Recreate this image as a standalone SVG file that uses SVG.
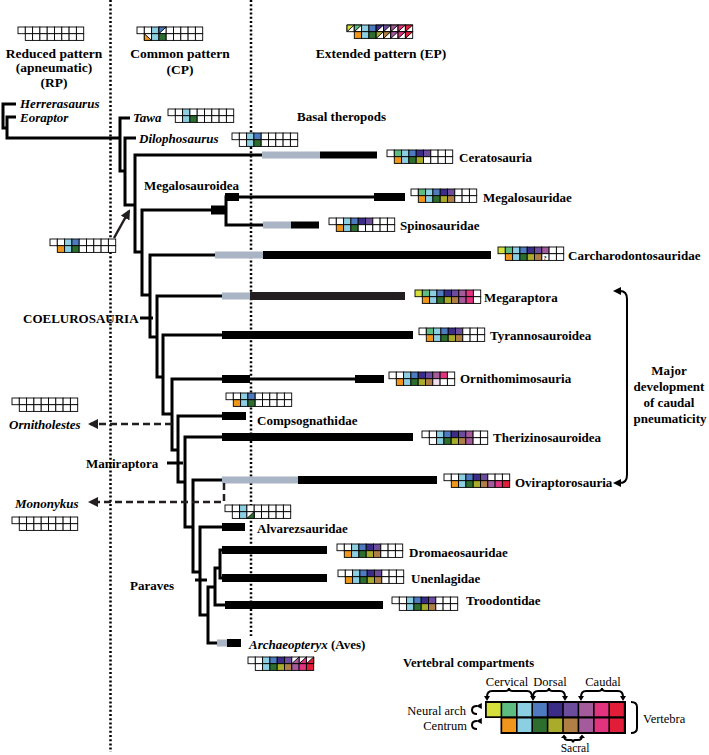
<svg xmlns="http://www.w3.org/2000/svg" width="709" height="755" viewBox="0 0 709 755">
<defs>
<style>
text{font-family:"Liberation Serif","Times New Roman",serif;fill:#000}
.b{font-weight:bold;font-size:13px}
.h{font-weight:bold;font-size:13.5px}
.i{font-style:italic}
.r{font-size:12.5px}
.br{fill:none;stroke:#000;stroke-width:3}
.dot{stroke:#000;stroke-width:2.5;stroke-dasharray:2 2.2}
.dash{fill:none;stroke:#231f20;stroke-width:2.5;stroke-dasharray:7 4}
.gy{fill:#a9b4c4}
.bk{fill:#000}
.m rect,.m path{stroke:#000;stroke-width:0.9}
.W{fill:#fff}.Y{fill:#d5e03c}.G{fill:#5dbd80}.L{fill:#8dcfe2}.B{fill:#4e7bc0}.I{fill:#3b2d87}.P{fill:#6b4c9d}.M{fill:#a45b9c}.K{fill:#e2337f}.R{fill:#e21d3a}.O{fill:#f0961c}.D{fill:#2d6d2e}.V{fill:#a9ab2b}.N{fill:#b07f45}.Q{fill:#f3dff0}
.thin{fill:none;stroke:#000;stroke-width:2}
</style>
<marker id="ah" viewBox="0 0 10 10" refX="8" refY="5" markerWidth="4" markerHeight="4" orient="auto"><path d="M0,0 L10,5 L0,10 z" fill="#231f20"/></marker>
<marker id="as" viewBox="0 0 10 10" refX="8" refY="5" markerWidth="3" markerHeight="3" orient="auto"><path d="M0,0 L10,5 L0,10 z" fill="#000"/></marker>
</defs>
<rect width="709" height="755" fill="#fff"/>

<g id="guides">
<line class="dot" x1="110.5" y1="0" x2="110.5" y2="752"/>
<line class="dot" x1="251" y1="0" x2="251" y2="636"/>
</g>

<g id="connectors">
<path class="br" d="M16,104 H3 V128 H7"/>
<path class="br" d="M16,117 H7 V138 H120"/>
<path class="br" d="M130,118 H120 V171 H125"/>
<path class="br" d="M136,138 H125 V205 H135"/>
<path class="br" d="M262,155 H135 V252 H142"/>
<path class="br" d="M212,210 H142 V295 H150"/>
<path class="br" d="M374,197 H226 V225 H263"/>
<path class="br" d="M215,255 H150 V337 H157"/>
<path class="br" d="M222,296 H157 V377 H163"/>
<path class="br" d="M222,335 H163 V414 H172"/>
<path class="br" d="M222,379 H172 V450 H178"/>
<path class="br" d="M355,379 H250"/>
<path class="br" d="M222,416 H178 V482 H185"/>
<path class="br" d="M222,437 H185 V527 H193"/>
<path class="br" d="M222,480 H193 V572 H200"/>
<path class="br" d="M222,527 H200 V615 H208"/>
<path class="br" d="M217,643 H208 V587 H215"/>
<path class="br" d="M225,605 H215 V568 H220"/>
<path class="br" d="M222,550 H220 V578 H222"/>
<path class="br" d="M140,318 H153"/>
<path class="br" d="M167,463 H183"/>
<path class="br" d="M195,580 H207"/>
<rect class="gy" x="262" y="151.5" width="58" height="7"/>
<rect class="bk" x="320" y="151.5" width="57" height="7"/>
<rect class="bk" x="211" y="205.5" width="15" height="9"/>
<rect class="bk" x="225" y="193" width="14" height="8"/>
<rect class="bk" x="374" y="193" width="31" height="8"/>
<rect class="gy" x="263" y="221.5" width="28" height="7"/>
<rect class="bk" x="291" y="221.5" width="28" height="7"/>
<rect class="gy" x="215" y="251.5" width="48" height="7"/>
<rect class="bk" x="263" y="251" width="228" height="8"/>
<rect class="gy" x="222" y="292.5" width="28" height="7"/>
<rect fill="#231f20" x="250" y="292" width="155" height="8"/>
<rect class="bk" x="222" y="331" width="191" height="8"/>
<rect class="bk" x="222" y="375" width="28" height="8"/>
<rect class="bk" x="355" y="375" width="29" height="8"/>
<rect class="bk" x="222" y="412" width="24" height="8"/>
<rect class="bk" x="222" y="433" width="191" height="8"/>
<rect class="gy" x="222" y="476.5" width="76" height="7"/>
<rect class="bk" x="298" y="476" width="139" height="8"/>
<rect class="bk" x="222" y="523" width="23" height="8"/>
<rect class="bk" x="222" y="546" width="105" height="8"/>
<rect class="bk" x="222" y="574" width="105" height="8"/>
<rect class="bk" x="225" y="601" width="158" height="8"/>
<rect class="gy" x="217" y="639.5" width="10" height="7"/>
<rect class="bk" x="227" y="639" width="14" height="8"/>
<path class="dash" d="M172,424 H90" marker-end="url(#ah)"/>
<path class="dash" d="M224,483 V502 H90" marker-end="url(#ah)"/>
<path fill="none" stroke="#231f20" stroke-width="2.5" d="M114,238 L129,211" marker-end="url(#ah)"/>
<path class="thin" d="M620,291 Q627,291 627,299 V475 Q627,483 620,483"/>
<path d="M613,291 L621,287 L621,295 z M613,483 L621,479 L621,487 z" fill="#000"/>
</g>

<g id="headers">
<text class="h" x="54" y="57.5" text-anchor="middle">Reduced pattern</text>
<text class="h" x="54" y="71.5" text-anchor="middle">(apneumatic)</text>
<text class="h" x="54" y="86.5" text-anchor="middle">(RP)</text>
<text class="h" x="180" y="57.5" text-anchor="middle">Common pattern</text>
<text class="h" x="180" y="73.5" text-anchor="middle">(CP)</text>
<text class="h" x="381" y="57.5" text-anchor="middle">Extended pattern (EP)</text>
<text class="b" x="297" y="121">Basal theropods</text>
<text class="b" x="144" y="189.5">Megalosauroidea</text>
<text class="b" x="23" y="322.5">COELUROSAURIA</text>
<text class="b" x="86" y="467.5">Maniraptora</text>
<text class="b" x="130" y="589.5">Paraves</text>
</g>

<g id="m-rp" class="m" transform="translate(18,27)">
<rect class="W" x="0" y="0" width="7.3" height="6.7"/><rect class="W" x="7.3" y="0" width="7.3" height="6.7"/><rect class="W" x="14.6" y="0" width="7.3" height="6.7"/><rect class="W" x="21.9" y="0" width="7.3" height="6.7"/><rect class="W" x="29.2" y="0" width="7.3" height="6.7"/><rect class="W" x="36.5" y="0" width="7.3" height="6.7"/><rect class="W" x="43.8" y="0" width="7.3" height="6.7"/><rect class="W" x="51.1" y="0" width="7.3" height="6.7"/><rect class="W" x="58.4" y="0" width="7.3" height="6.7"/>
<rect class="W" x="7.3" y="6.7" width="7.3" height="6.7"/><rect class="W" x="14.6" y="6.7" width="7.3" height="6.7"/><rect class="W" x="21.9" y="6.7" width="7.3" height="6.7"/><rect class="W" x="29.2" y="6.7" width="7.3" height="6.7"/><rect class="W" x="36.5" y="6.7" width="7.3" height="6.7"/><rect class="W" x="43.8" y="6.7" width="7.3" height="6.7"/><rect class="W" x="51.1" y="6.7" width="7.3" height="6.7"/><rect class="W" x="58.4" y="6.7" width="7.3" height="6.7"/>
</g>

<g id="m-cp" class="m" transform="translate(137,27)">
<rect class="W" x="0" y="0" width="7.3" height="6.7"/><rect class="W" x="7.3" y="0" width="7.3" height="6.7"/><rect class="L" x="14.6" y="0" width="7.3" height="6.7"/><rect class="W" x="21.9" y="0" width="7.3" height="6.7"/><rect class="W" x="29.2" y="0" width="7.3" height="6.7"/><rect class="W" x="36.5" y="0" width="7.3" height="6.7"/><rect class="W" x="43.8" y="0" width="7.3" height="6.7"/><rect class="W" x="51.1" y="0" width="7.3" height="6.7"/><rect class="W" x="58.4" y="0" width="7.3" height="6.7"/>
<path class="B" d="M21.9,6.7 L29.2,0 L21.9,0 z"/>
<rect class="W" x="7.3" y="6.7" width="7.3" height="6.7"/><rect class="L" x="14.6" y="6.7" width="7.3" height="6.7"/><rect class="D" x="21.9" y="6.7" width="7.3" height="6.7"/><rect class="W" x="29.2" y="6.7" width="7.3" height="6.7"/><rect class="W" x="36.5" y="6.7" width="7.3" height="6.7"/><rect class="W" x="43.8" y="6.7" width="7.3" height="6.7"/><rect class="W" x="51.1" y="6.7" width="7.3" height="6.7"/><rect class="W" x="58.4" y="6.7" width="7.3" height="6.7"/>
<path class="O" d="M7.3,13.4 L14.6,13.4 L7.3,6.7 z"/>
</g>

<g id="m-ep" class="m" transform="translate(347,25)">
<rect class="W" x="0" y="0" width="7.3" height="6.7"/><rect class="W" x="7.3" y="0" width="7.3" height="6.7"/><rect class="L" x="14.6" y="0" width="7.3" height="6.7"/><rect class="B" x="21.9" y="0" width="7.3" height="6.7"/><rect class="W" x="29.2" y="0" width="7.3" height="6.7"/><rect class="W" x="36.5" y="0" width="7.3" height="6.7"/><rect class="W" x="43.8" y="0" width="7.3" height="6.7"/><rect class="W" x="51.1" y="0" width="7.3" height="6.7"/><rect class="W" x="58.4" y="0" width="7.3" height="6.7"/>
<path class="Y" d="M0,6.7 L7.3,0 L0,0 z"/><path class="G" d="M7.3,6.7 L14.6,0 L7.3,0 z"/><path class="I" d="M29.2,6.7 L36.5,0 L29.2,0 z"/><path class="P" d="M36.5,6.7 L43.8,0 L36.5,0 z"/><path class="M" d="M43.8,6.7 L51.1,0 L43.8,0 z"/><path class="K" d="M51.1,6.7 L58.4,0 L51.1,0 z"/><path class="R" d="M58.4,6.7 L65.7,0 L58.4,0 z"/>
<rect class="O" x="7.3" y="6.7" width="7.3" height="6.7"/><rect class="L" x="14.6" y="6.7" width="7.3" height="6.7"/><rect class="D" x="21.9" y="6.7" width="7.3" height="6.7"/><rect class="W" x="29.2" y="6.7" width="7.3" height="6.7"/><rect class="W" x="36.5" y="6.7" width="7.3" height="6.7"/><rect class="W" x="43.8" y="6.7" width="7.3" height="6.7"/><rect class="W" x="51.1" y="6.7" width="7.3" height="6.7"/><rect class="W" x="58.4" y="6.7" width="7.3" height="6.7"/>
<path class="V" d="M29.2,13.4 L36.5,6.7 L29.2,6.7 z"/><path class="N" d="M36.5,13.4 L43.8,6.7 L36.5,6.7 z"/><path class="M" d="M43.8,13.4 L51.1,6.7 L43.8,6.7 z"/><path class="K" d="M51.1,13.4 L58.4,6.7 L51.1,6.7 z"/><path class="R" d="M58.4,13.4 L65.7,6.7 L58.4,6.7 z"/>
</g>

<g id="herrerasaurus"><text class="b i" x="20" y="108">Herrerasaurus</text></g>
<g id="eoraptor"><text class="b i" x="20" y="121.5">Eoraptor</text></g>

<g id="tawa"><text class="b i" x="133" y="122">Tawa</text>
<g class="m" transform="translate(168,109)">
<rect class="W" x="0" y="0" width="7.3" height="6.7"/><rect class="W" x="7.3" y="0" width="7.3" height="6.7"/><rect class="L" x="14.6" y="0" width="7.3" height="6.7"/><rect class="W" x="21.9" y="0" width="7.3" height="6.7"/><rect class="W" x="29.2" y="0" width="7.3" height="6.7"/><rect class="W" x="36.5" y="0" width="7.3" height="6.7"/><rect class="W" x="43.8" y="0" width="7.3" height="6.7"/><rect class="W" x="51.1" y="0" width="7.3" height="6.7"/><rect class="W" x="58.4" y="0" width="7.3" height="6.7"/>
<rect class="W" x="7.3" y="6.7" width="7.3" height="6.7"/><rect class="L" x="14.6" y="6.7" width="7.3" height="6.7"/><rect class="D" x="21.9" y="6.7" width="7.3" height="6.7"/><rect class="W" x="29.2" y="6.7" width="7.3" height="6.7"/><rect class="W" x="36.5" y="6.7" width="7.3" height="6.7"/><rect class="W" x="43.8" y="6.7" width="7.3" height="6.7"/><rect class="W" x="51.1" y="6.7" width="7.3" height="6.7"/><rect class="W" x="58.4" y="6.7" width="7.3" height="6.7"/>
</g></g>

<g id="dilophosaurus"><text class="b i" x="139" y="142.5">Dilophosaurus</text>
<g class="m" transform="translate(232,133)">
<rect class="W" x="0" y="0" width="7.3" height="6.7"/><rect class="W" x="7.3" y="0" width="7.3" height="6.7"/><rect class="L" x="14.6" y="0" width="7.3" height="6.7"/><rect class="B" x="21.9" y="0" width="7.3" height="6.7"/><rect class="W" x="29.2" y="0" width="7.3" height="6.7"/><rect class="W" x="36.5" y="0" width="7.3" height="6.7"/><rect class="W" x="43.8" y="0" width="7.3" height="6.7"/><rect class="W" x="51.1" y="0" width="7.3" height="6.7"/><rect class="W" x="58.4" y="0" width="7.3" height="6.7"/>
<rect class="W" x="7.3" y="6.7" width="7.3" height="6.7"/><rect class="L" x="14.6" y="6.7" width="7.3" height="6.7"/><rect class="D" x="21.9" y="6.7" width="7.3" height="6.7"/><rect class="W" x="29.2" y="6.7" width="7.3" height="6.7"/><rect class="W" x="36.5" y="6.7" width="7.3" height="6.7"/><rect class="W" x="43.8" y="6.7" width="7.3" height="6.7"/><rect class="W" x="51.1" y="6.7" width="7.3" height="6.7"/><rect class="W" x="58.4" y="6.7" width="7.3" height="6.7"/>
</g></g>

<g id="m-node" class="m" transform="translate(50,239)">
<rect class="W" x="0" y="0" width="7.3" height="6.7"/><rect class="W" x="7.3" y="0" width="7.3" height="6.7"/><rect class="L" x="14.6" y="0" width="7.3" height="6.7"/><rect class="B" x="21.9" y="0" width="7.3" height="6.7"/><rect class="W" x="29.2" y="0" width="7.3" height="6.7"/><rect class="W" x="36.5" y="0" width="7.3" height="6.7"/><rect class="W" x="43.8" y="0" width="7.3" height="6.7"/><rect class="W" x="51.1" y="0" width="7.3" height="6.7"/><rect class="W" x="58.4" y="0" width="7.3" height="6.7"/>
<rect class="O" x="7.3" y="6.7" width="7.3" height="6.7"/><rect class="L" x="14.6" y="6.7" width="7.3" height="6.7"/><rect class="D" x="21.9" y="6.7" width="7.3" height="6.7"/><rect class="W" x="29.2" y="6.7" width="7.3" height="6.7"/><rect class="W" x="36.5" y="6.7" width="7.3" height="6.7"/><rect class="W" x="43.8" y="6.7" width="7.3" height="6.7"/><rect class="W" x="51.1" y="6.7" width="7.3" height="6.7"/><rect class="W" x="58.4" y="6.7" width="7.3" height="6.7"/>
</g>

<g id="ceratosauria"><text class="b" x="459" y="161.5">Ceratosauria</text>
<g class="m" transform="translate(387,150)">
<rect class="W" x="0" y="0" width="7.3" height="6.7"/><rect class="G" x="7.3" y="0" width="7.3" height="6.7"/><rect class="L" x="14.6" y="0" width="7.3" height="6.7"/><rect class="B" x="21.9" y="0" width="7.3" height="6.7"/><rect class="I" x="29.2" y="0" width="7.3" height="6.7"/><rect class="P" x="36.5" y="0" width="7.3" height="6.7"/><rect class="W" x="43.8" y="0" width="7.3" height="6.7"/><rect class="W" x="51.1" y="0" width="7.3" height="6.7"/><rect class="W" x="58.4" y="0" width="7.3" height="6.7"/>
<rect class="O" x="7.3" y="6.7" width="7.3" height="6.7"/><rect class="L" x="14.6" y="6.7" width="7.3" height="6.7"/><rect class="D" x="21.9" y="6.7" width="7.3" height="6.7"/><rect class="V" x="29.2" y="6.7" width="7.3" height="6.7"/><rect class="W" x="36.5" y="6.7" width="7.3" height="6.7"/><rect class="W" x="43.8" y="6.7" width="7.3" height="6.7"/><rect class="W" x="51.1" y="6.7" width="7.3" height="6.7"/><rect class="W" x="58.4" y="6.7" width="7.3" height="6.7"/>
</g></g>

<g id="megalosauridae"><text class="b" x="483" y="201.5">Megalosauridae</text>
<g class="m" transform="translate(411,189)">
<rect class="W" x="0" y="0" width="7.3" height="6.7"/><rect class="G" x="7.3" y="0" width="7.3" height="6.7"/><rect class="L" x="14.6" y="0" width="7.3" height="6.7"/><rect class="B" x="21.9" y="0" width="7.3" height="6.7"/><rect class="I" x="29.2" y="0" width="7.3" height="6.7"/><rect class="P" x="36.5" y="0" width="7.3" height="6.7"/><rect class="W" x="43.8" y="0" width="7.3" height="6.7"/><rect class="W" x="51.1" y="0" width="7.3" height="6.7"/><rect class="W" x="58.4" y="0" width="7.3" height="6.7"/>
<rect class="O" x="7.3" y="6.7" width="7.3" height="6.7"/><rect class="L" x="14.6" y="6.7" width="7.3" height="6.7"/><rect class="D" x="21.9" y="6.7" width="7.3" height="6.7"/><rect class="V" x="29.2" y="6.7" width="7.3" height="6.7"/><rect class="N" x="36.5" y="6.7" width="7.3" height="6.7"/><rect class="W" x="43.8" y="6.7" width="7.3" height="6.7"/><rect class="W" x="51.1" y="6.7" width="7.3" height="6.7"/><rect class="W" x="58.4" y="6.7" width="7.3" height="6.7"/>
</g></g>

<g id="spinosauridae"><text class="b" x="400" y="229.5">Spinosauridae</text>
<g class="m" transform="translate(329,218)">
<rect class="W" x="0" y="0" width="7.3" height="6.7"/><rect class="W" x="7.3" y="0" width="7.3" height="6.7"/><rect class="L" x="14.6" y="0" width="7.3" height="6.7"/><rect class="B" x="21.9" y="0" width="7.3" height="6.7"/><rect class="I" x="29.2" y="0" width="7.3" height="6.7"/><rect class="P" x="36.5" y="0" width="7.3" height="6.7"/><rect class="W" x="43.8" y="0" width="7.3" height="6.7"/><rect class="W" x="51.1" y="0" width="7.3" height="6.7"/><rect class="W" x="58.4" y="0" width="7.3" height="6.7"/>
<rect class="O" x="7.3" y="6.7" width="7.3" height="6.7"/><rect class="L" x="14.6" y="6.7" width="7.3" height="6.7"/><rect class="D" x="21.9" y="6.7" width="7.3" height="6.7"/><rect class="W" x="29.2" y="6.7" width="7.3" height="6.7"/><rect class="W" x="36.5" y="6.7" width="7.3" height="6.7"/><rect class="W" x="43.8" y="6.7" width="7.3" height="6.7"/><rect class="W" x="51.1" y="6.7" width="7.3" height="6.7"/><rect class="W" x="58.4" y="6.7" width="7.3" height="6.7"/>
</g></g>

<g id="carcharodontosauridae"><text class="b" x="568" y="259.5">Carcharodontosauridae</text>
<g class="m" transform="translate(498,247)">
<rect class="Y" x="0" y="0" width="7.3" height="6.7"/><rect class="G" x="7.3" y="0" width="7.3" height="6.7"/><rect class="L" x="14.6" y="0" width="7.3" height="6.7"/><rect class="B" x="21.9" y="0" width="7.3" height="6.7"/><rect class="I" x="29.2" y="0" width="7.3" height="6.7"/><rect class="P" x="36.5" y="0" width="7.3" height="6.7"/><rect class="M" x="43.8" y="0" width="7.3" height="6.7"/><rect class="W" x="51.1" y="0" width="7.3" height="6.7"/><rect class="W" x="58.4" y="0" width="7.3" height="6.7"/>
<rect class="O" x="7.3" y="6.7" width="7.3" height="6.7"/><rect class="L" x="14.6" y="6.7" width="7.3" height="6.7"/><rect class="D" x="21.9" y="6.7" width="7.3" height="6.7"/><rect class="V" x="29.2" y="6.7" width="7.3" height="6.7"/><rect class="N" x="36.5" y="6.7" width="7.3" height="6.7"/><rect class="W" x="43.8" y="6.7" width="7.3" height="6.7"/><rect class="W" x="51.1" y="6.7" width="7.3" height="6.7"/><rect class="W" x="58.4" y="6.7" width="7.3" height="6.7"/>
<text x="45.6" y="12.6" style="font-size:6px;font-weight:bold">?</text>
</g></g>

<g id="megaraptora"><text class="b" x="484" y="301.5">Megaraptora</text>
<g class="m" transform="translate(415,290)">
<rect class="Y" x="0" y="0" width="7.3" height="6.7"/><rect class="G" x="7.3" y="0" width="7.3" height="6.7"/><rect class="L" x="14.6" y="0" width="7.3" height="6.7"/><rect class="B" x="21.9" y="0" width="7.3" height="6.7"/><rect class="I" x="29.2" y="0" width="7.3" height="6.7"/><rect class="P" x="36.5" y="0" width="7.3" height="6.7"/><rect class="M" x="43.8" y="0" width="7.3" height="6.7"/><rect class="K" x="51.1" y="0" width="7.3" height="6.7"/><rect class="W" x="58.4" y="0" width="7.3" height="6.7"/>
<rect class="O" x="7.3" y="6.7" width="7.3" height="6.7"/><rect class="L" x="14.6" y="6.7" width="7.3" height="6.7"/><rect class="D" x="21.9" y="6.7" width="7.3" height="6.7"/><rect class="V" x="29.2" y="6.7" width="7.3" height="6.7"/><rect class="N" x="36.5" y="6.7" width="7.3" height="6.7"/><rect class="M" x="43.8" y="6.7" width="7.3" height="6.7"/><rect class="K" x="51.1" y="6.7" width="7.3" height="6.7"/><rect class="W" x="58.4" y="6.7" width="7.3" height="6.7"/>
</g></g>

<g id="tyrannosauroidea"><text class="b" x="490" y="339.5">Tyrannosauroidea</text>
<g class="m" transform="translate(419,328)">
<rect class="W" x="0" y="0" width="7.3" height="6.7"/><rect class="G" x="7.3" y="0" width="7.3" height="6.7"/><rect class="L" x="14.6" y="0" width="7.3" height="6.7"/><rect class="B" x="21.9" y="0" width="7.3" height="6.7"/><rect class="I" x="29.2" y="0" width="7.3" height="6.7"/><rect class="P" x="36.5" y="0" width="7.3" height="6.7"/><rect class="W" x="43.8" y="0" width="7.3" height="6.7"/><rect class="W" x="51.1" y="0" width="7.3" height="6.7"/><rect class="W" x="58.4" y="0" width="7.3" height="6.7"/>
<rect class="O" x="7.3" y="6.7" width="7.3" height="6.7"/><rect class="L" x="14.6" y="6.7" width="7.3" height="6.7"/><rect class="D" x="21.9" y="6.7" width="7.3" height="6.7"/><rect class="V" x="29.2" y="6.7" width="7.3" height="6.7"/><rect class="N" x="36.5" y="6.7" width="7.3" height="6.7"/><rect class="W" x="43.8" y="6.7" width="7.3" height="6.7"/><rect class="W" x="51.1" y="6.7" width="7.3" height="6.7"/><rect class="W" x="58.4" y="6.7" width="7.3" height="6.7"/>
</g></g>

<g id="ornithomimosauria"><text class="b" x="460" y="382.5">Ornithomimosauria</text>
<g class="m" transform="translate(389,372)">
<rect class="W" x="0" y="0" width="7.3" height="6.7"/><rect class="W" x="7.3" y="0" width="7.3" height="6.7"/><rect class="L" x="14.6" y="0" width="7.3" height="6.7"/><rect class="B" x="21.9" y="0" width="7.3" height="6.7"/><rect class="I" x="29.2" y="0" width="7.3" height="6.7"/><rect class="P" x="36.5" y="0" width="7.3" height="6.7"/><rect class="M" x="43.8" y="0" width="7.3" height="6.7"/><rect class="K" x="51.1" y="0" width="7.3" height="6.7"/><rect class="W" x="58.4" y="0" width="7.3" height="6.7"/>
<rect class="O" x="7.3" y="6.7" width="7.3" height="6.7"/><rect class="L" x="14.6" y="6.7" width="7.3" height="6.7"/><rect class="D" x="21.9" y="6.7" width="7.3" height="6.7"/><rect class="V" x="29.2" y="6.7" width="7.3" height="6.7"/><rect class="N" x="36.5" y="6.7" width="7.3" height="6.7"/><rect class="Q" x="43.8" y="6.7" width="7.3" height="6.7"/><rect class="W" x="51.1" y="6.7" width="7.3" height="6.7"/><rect class="W" x="58.4" y="6.7" width="7.3" height="6.7"/>
</g></g>

<g id="compsognathidae"><text class="b" x="257" y="424.5">Compsognathidae</text>
<g class="m" transform="translate(226,393)">
<rect class="W" x="0" y="0" width="7.3" height="6.7"/><rect class="W" x="7.3" y="0" width="7.3" height="6.7"/><rect class="L" x="14.6" y="0" width="7.3" height="6.7"/><rect class="B" x="21.9" y="0" width="7.3" height="6.7"/><rect class="W" x="29.2" y="0" width="7.3" height="6.7"/><rect class="W" x="36.5" y="0" width="7.3" height="6.7"/><rect class="W" x="43.8" y="0" width="7.3" height="6.7"/><rect class="W" x="51.1" y="0" width="7.3" height="6.7"/><rect class="W" x="58.4" y="0" width="7.3" height="6.7"/>
<rect class="O" x="7.3" y="6.7" width="7.3" height="6.7"/><rect class="L" x="14.6" y="6.7" width="7.3" height="6.7"/><rect class="D" x="21.9" y="6.7" width="7.3" height="6.7"/><rect class="W" x="29.2" y="6.7" width="7.3" height="6.7"/><rect class="W" x="36.5" y="6.7" width="7.3" height="6.7"/><rect class="W" x="43.8" y="6.7" width="7.3" height="6.7"/><rect class="W" x="51.1" y="6.7" width="7.3" height="6.7"/><rect class="W" x="58.4" y="6.7" width="7.3" height="6.7"/>
</g></g>

<g id="ornitholestes"><text class="b i" x="9" y="428.5">Ornitholestes</text>
<g class="m" transform="translate(12,398)">
<rect class="W" x="0" y="0" width="7.3" height="6.7"/><rect class="W" x="7.3" y="0" width="7.3" height="6.7"/><rect class="W" x="14.6" y="0" width="7.3" height="6.7"/><rect class="W" x="21.9" y="0" width="7.3" height="6.7"/><rect class="W" x="29.2" y="0" width="7.3" height="6.7"/><rect class="W" x="36.5" y="0" width="7.3" height="6.7"/><rect class="W" x="43.8" y="0" width="7.3" height="6.7"/><rect class="W" x="51.1" y="0" width="7.3" height="6.7"/><rect class="W" x="58.4" y="0" width="7.3" height="6.7"/>
<rect class="W" x="7.3" y="6.7" width="7.3" height="6.7"/><rect class="W" x="14.6" y="6.7" width="7.3" height="6.7"/><rect class="W" x="21.9" y="6.7" width="7.3" height="6.7"/><rect class="W" x="29.2" y="6.7" width="7.3" height="6.7"/><rect class="W" x="36.5" y="6.7" width="7.3" height="6.7"/><rect class="W" x="43.8" y="6.7" width="7.3" height="6.7"/><rect class="W" x="51.1" y="6.7" width="7.3" height="6.7"/><rect class="W" x="58.4" y="6.7" width="7.3" height="6.7"/>
</g></g>

<g id="therizinosauroidea"><text class="b" x="493" y="441.5">Therizinosauroidea</text>
<g class="m" transform="translate(422,431)">
<rect class="W" x="0" y="0" width="7.3" height="6.7"/><rect class="W" x="7.3" y="0" width="7.3" height="6.7"/><rect class="L" x="14.6" y="0" width="7.3" height="6.7"/><rect class="B" x="21.9" y="0" width="7.3" height="6.7"/><rect class="I" x="29.2" y="0" width="7.3" height="6.7"/><rect class="P" x="36.5" y="0" width="7.3" height="6.7"/><rect class="M" x="43.8" y="0" width="7.3" height="6.7"/><rect class="W" x="51.1" y="0" width="7.3" height="6.7"/><rect class="W" x="58.4" y="0" width="7.3" height="6.7"/>
<rect class="W" x="7.3" y="6.7" width="7.3" height="6.7"/><rect class="L" x="14.6" y="6.7" width="7.3" height="6.7"/><rect class="D" x="21.9" y="6.7" width="7.3" height="6.7"/><rect class="V" x="29.2" y="6.7" width="7.3" height="6.7"/><rect class="N" x="36.5" y="6.7" width="7.3" height="6.7"/><rect class="M" x="43.8" y="6.7" width="7.3" height="6.7"/><rect class="W" x="51.1" y="6.7" width="7.3" height="6.7"/><rect class="W" x="58.4" y="6.7" width="7.3" height="6.7"/>
</g></g>

<g id="oviraptorosauria"><text class="b" x="515" y="486.5">Oviraptorosauria</text>
<g class="m" transform="translate(444,474)">
<rect class="W" x="0" y="0" width="7.3" height="6.7"/><rect class="W" x="7.3" y="0" width="7.3" height="6.7"/><rect class="L" x="14.6" y="0" width="7.3" height="6.7"/><rect class="B" x="21.9" y="0" width="7.3" height="6.7"/><rect class="I" x="29.2" y="0" width="7.3" height="6.7"/><rect class="P" x="36.5" y="0" width="7.3" height="6.7"/><rect class="W" x="43.8" y="0" width="7.3" height="6.7"/><rect class="W" x="51.1" y="0" width="7.3" height="6.7"/><rect class="W" x="58.4" y="0" width="7.3" height="6.7"/>
<rect class="O" x="7.3" y="6.7" width="7.3" height="6.7"/><rect class="L" x="14.6" y="6.7" width="7.3" height="6.7"/><rect class="D" x="21.9" y="6.7" width="7.3" height="6.7"/><rect class="V" x="29.2" y="6.7" width="7.3" height="6.7"/><rect class="N" x="36.5" y="6.7" width="7.3" height="6.7"/><rect class="M" x="43.8" y="6.7" width="7.3" height="6.7"/><rect class="K" x="51.1" y="6.7" width="7.3" height="6.7"/><rect class="R" x="58.4" y="6.7" width="7.3" height="6.7"/>
</g></g>

<g id="mononykus"><text class="b i" x="15" y="507.5">Mononykus</text>
<g class="m" transform="translate(12,517)">
<rect class="W" x="0" y="0" width="7.3" height="6.7"/><rect class="W" x="7.3" y="0" width="7.3" height="6.7"/><rect class="W" x="14.6" y="0" width="7.3" height="6.7"/><rect class="W" x="21.9" y="0" width="7.3" height="6.7"/><rect class="W" x="29.2" y="0" width="7.3" height="6.7"/><rect class="W" x="36.5" y="0" width="7.3" height="6.7"/><rect class="W" x="43.8" y="0" width="7.3" height="6.7"/><rect class="W" x="51.1" y="0" width="7.3" height="6.7"/><rect class="W" x="58.4" y="0" width="7.3" height="6.7"/>
<rect class="W" x="7.3" y="6.7" width="7.3" height="6.7"/><rect class="W" x="14.6" y="6.7" width="7.3" height="6.7"/><rect class="W" x="21.9" y="6.7" width="7.3" height="6.7"/><rect class="W" x="29.2" y="6.7" width="7.3" height="6.7"/><rect class="W" x="36.5" y="6.7" width="7.3" height="6.7"/><rect class="W" x="43.8" y="6.7" width="7.3" height="6.7"/><rect class="W" x="51.1" y="6.7" width="7.3" height="6.7"/><rect class="W" x="58.4" y="6.7" width="7.3" height="6.7"/>
</g></g>

<g id="alvarezsauridae"><text class="b" x="257" y="532.5">Alvarezsauridae</text>
<g class="m" transform="translate(225,505)">
<rect class="W" x="0" y="0" width="7.3" height="6.7"/><rect class="W" x="7.3" y="0" width="7.3" height="6.7"/><rect class="L" x="14.6" y="0" width="7.3" height="6.7"/><rect class="W" x="21.9" y="0" width="7.3" height="6.7"/><rect class="W" x="29.2" y="0" width="7.3" height="6.7"/><rect class="W" x="36.5" y="0" width="7.3" height="6.7"/><rect class="W" x="43.8" y="0" width="7.3" height="6.7"/><rect class="W" x="51.1" y="0" width="7.3" height="6.7"/><rect class="W" x="58.4" y="0" width="7.3" height="6.7"/>
<rect class="W" x="7.3" y="6.7" width="7.3" height="6.7"/><rect class="L" x="14.6" y="6.7" width="7.3" height="6.7"/><rect class="W" x="21.9" y="6.7" width="7.3" height="6.7"/><rect class="W" x="29.2" y="6.7" width="7.3" height="6.7"/><rect class="W" x="36.5" y="6.7" width="7.3" height="6.7"/><rect class="W" x="43.8" y="6.7" width="7.3" height="6.7"/><rect class="W" x="51.1" y="6.7" width="7.3" height="6.7"/><rect class="W" x="58.4" y="6.7" width="7.3" height="6.7"/>
<path class="D" d="M21.9,13.4 L29.2,13.4 L29.2,6.7 z"/>
</g></g>

<g id="dromaeosauridae"><text class="b" x="409" y="556.5">Dromaeosauridae</text>
<g class="m" transform="translate(337,544)">
<rect class="W" x="0" y="0" width="7.3" height="6.7"/><rect class="W" x="7.3" y="0" width="7.3" height="6.7"/><rect class="L" x="14.6" y="0" width="7.3" height="6.7"/><rect class="B" x="21.9" y="0" width="7.3" height="6.7"/><rect class="I" x="29.2" y="0" width="7.3" height="6.7"/><rect class="P" x="36.5" y="0" width="7.3" height="6.7"/><rect class="W" x="43.8" y="0" width="7.3" height="6.7"/><rect class="W" x="51.1" y="0" width="7.3" height="6.7"/><rect class="W" x="58.4" y="0" width="7.3" height="6.7"/>
<rect class="O" x="7.3" y="6.7" width="7.3" height="6.7"/><rect class="L" x="14.6" y="6.7" width="7.3" height="6.7"/><rect class="D" x="21.9" y="6.7" width="7.3" height="6.7"/><rect class="V" x="29.2" y="6.7" width="7.3" height="6.7"/><rect class="N" x="36.5" y="6.7" width="7.3" height="6.7"/><rect class="W" x="43.8" y="6.7" width="7.3" height="6.7"/><rect class="W" x="51.1" y="6.7" width="7.3" height="6.7"/><rect class="W" x="58.4" y="6.7" width="7.3" height="6.7"/>
</g></g>

<g id="unenlagidae"><text class="b" x="411" y="582.5">Unenlagidae</text>
<g class="m" transform="translate(338,570)">
<rect class="W" x="0" y="0" width="7.3" height="6.7"/><rect class="W" x="7.3" y="0" width="7.3" height="6.7"/><rect class="L" x="14.6" y="0" width="7.3" height="6.7"/><rect class="B" x="21.9" y="0" width="7.3" height="6.7"/><rect class="I" x="29.2" y="0" width="7.3" height="6.7"/><rect class="P" x="36.5" y="0" width="7.3" height="6.7"/><rect class="W" x="43.8" y="0" width="7.3" height="6.7"/><rect class="W" x="51.1" y="0" width="7.3" height="6.7"/><rect class="W" x="58.4" y="0" width="7.3" height="6.7"/>
<rect class="O" x="7.3" y="6.7" width="7.3" height="6.7"/><rect class="L" x="14.6" y="6.7" width="7.3" height="6.7"/><rect class="D" x="21.9" y="6.7" width="7.3" height="6.7"/><rect class="V" x="29.2" y="6.7" width="7.3" height="6.7"/><rect class="N" x="36.5" y="6.7" width="7.3" height="6.7"/><rect class="W" x="43.8" y="6.7" width="7.3" height="6.7"/><rect class="W" x="51.1" y="6.7" width="7.3" height="6.7"/><rect class="W" x="58.4" y="6.7" width="7.3" height="6.7"/>
</g></g>

<g id="troodontidae"><text class="b" x="466" y="604.5">Troodontidae</text>
<g class="m" transform="translate(392,597)">
<rect class="W" x="0" y="0" width="7.3" height="6.7"/><rect class="W" x="7.3" y="0" width="7.3" height="6.7"/><rect class="L" x="14.6" y="0" width="7.3" height="6.7"/><rect class="B" x="21.9" y="0" width="7.3" height="6.7"/><rect class="I" x="29.2" y="0" width="7.3" height="6.7"/><rect class="P" x="36.5" y="0" width="7.3" height="6.7"/><rect class="W" x="43.8" y="0" width="7.3" height="6.7"/><rect class="W" x="51.1" y="0" width="7.3" height="6.7"/><rect class="W" x="58.4" y="0" width="7.3" height="6.7"/>
<rect class="W" x="7.3" y="6.7" width="7.3" height="6.7"/><rect class="L" x="14.6" y="6.7" width="7.3" height="6.7"/><rect class="D" x="21.9" y="6.7" width="7.3" height="6.7"/><rect class="V" x="29.2" y="6.7" width="7.3" height="6.7"/><rect class="N" x="36.5" y="6.7" width="7.3" height="6.7"/><rect class="W" x="43.8" y="6.7" width="7.3" height="6.7"/><rect class="W" x="51.1" y="6.7" width="7.3" height="6.7"/><rect class="W" x="58.4" y="6.7" width="7.3" height="6.7"/>
</g></g>

<g id="archaeopteryx"><text class="b" x="249" y="648.5"><tspan class="i">Archaeopteryx</tspan> (Aves)</text>
<g class="m" transform="translate(248,657)">
<rect class="W" x="0" y="0" width="7.3" height="6.7"/><rect class="W" x="7.3" y="0" width="7.3" height="6.7"/><rect class="L" x="14.6" y="0" width="7.3" height="6.7"/><rect class="B" x="21.9" y="0" width="7.3" height="6.7"/><rect class="I" x="29.2" y="0" width="7.3" height="6.7"/><rect class="P" x="36.5" y="0" width="7.3" height="6.7"/><rect class="W" x="43.8" y="0" width="7.3" height="6.7"/><rect class="W" x="51.1" y="0" width="7.3" height="6.7"/><rect class="W" x="58.4" y="0" width="7.3" height="6.7"/>
<path class="M" d="M43.8,6.7 L51.1,6.7 L51.1,0 z"/><path class="K" d="M51.1,6.7 L58.4,6.7 L58.4,0 z"/><path class="R" d="M58.4,6.7 L65.7,6.7 L65.7,0 z"/>
<rect class="W" x="7.3" y="6.7" width="7.3" height="6.7"/><rect class="L" x="14.6" y="6.7" width="7.3" height="6.7"/><rect class="D" x="21.9" y="6.7" width="7.3" height="6.7"/><rect class="V" x="29.2" y="6.7" width="7.3" height="6.7"/><rect class="N" x="36.5" y="6.7" width="7.3" height="6.7"/><rect class="M" x="43.8" y="6.7" width="7.3" height="6.7"/><rect class="K" x="51.1" y="6.7" width="7.3" height="6.7"/><rect class="R" x="58.4" y="6.7" width="7.3" height="6.7"/>
</g></g>

<g id="caudal-note">
<text class="b" x="669" y="374.5" text-anchor="middle">Major</text>
<text class="b" x="669" y="391" text-anchor="middle">development</text>
<text class="b" x="669" y="407" text-anchor="middle">of caudal</text>
<text class="b" x="670" y="422.5" text-anchor="middle">pneumaticity</text>
</g>

<g id="legend">
<text x="403" y="666.5" style="font-weight:bold;font-size:12.5px">Vertebral compartments</text>
<text class="r" x="507" y="685.5" text-anchor="middle">Cervical</text>
<text class="r" x="550" y="685.5" text-anchor="middle">Dorsal</text>
<text class="r" x="603" y="685.5" text-anchor="middle">Caudal</text>
<path class="thin" d="M487,697 Q487,691 492,691 H505 Q509,691 509,688 Q509,691 513,691 H527 Q532,691 532,697"/>
<path class="thin" d="M533,697 Q533,691 538,691 H545 Q549,691 549,688 Q549,691 553,691 H560 Q565,691 565,697"/>
<path class="thin" d="M581,697 Q581,691 586,691 H598 Q602,691 602,688 Q602,691 606,691 H618 Q623,691 623,697"/>
<path d="M484,696 L490,696 L487,701 z M530,696 L536,696 L533,701 z M562,696 L568,696 L565,701 z M578,696 L584,696 L581,701 z M620,696 L626,696 L623,701 z" fill="#000"/>
<path d="M485,701 H626 V734 H500.5 V718 H485 z" fill="#000"/>
<rect class="Y" x="486.8" y="703" width="13.8" height="13.3"/><rect class="G" x="502.2" y="703" width="13.8" height="13.3"/><rect class="L" x="517.6" y="703" width="13.8" height="13.3"/><rect class="B" x="533" y="703" width="13.8" height="13.3"/><rect class="I" x="548.4" y="703" width="13.8" height="13.3"/><rect class="P" x="563.8" y="703" width="13.8" height="13.3"/><rect class="M" x="579.2" y="703" width="13.8" height="13.3"/><rect class="K" x="594.6" y="703" width="13.8" height="13.3"/><rect class="R" x="610" y="703" width="13.8" height="13.3"/>
<rect class="O" x="502.2" y="718.5" width="13.8" height="13.5"/><rect class="L" x="517.6" y="718.5" width="13.8" height="13.5"/><rect class="D" x="533" y="718.5" width="13.8" height="13.5"/><rect class="V" x="548.4" y="718.5" width="13.8" height="13.5"/><rect class="N" x="563.8" y="718.5" width="13.8" height="13.5"/><rect class="M" x="579.2" y="718.5" width="13.8" height="13.5"/><rect class="K" x="594.6" y="718.5" width="13.8" height="13.5"/><rect class="R" x="610" y="718.5" width="13.8" height="13.5"/>
<text class="r" x="466" y="714.5" text-anchor="end">Neural arch</text>
<text class="r" x="467" y="729.5" text-anchor="end">Centrum</text>
<path class="thin" d="M477,706 Q472,706 472,710 Q472,714 477,714" marker-start="url(#as)"/>
<path class="thin" d="M477,721 Q472,721 472,725 Q472,729 477,729" marker-start="url(#as)"/>
<path class="thin" d="M631,702 Q637,702 637,707 V728 Q637,733 631,733"/>
<text class="r" x="643" y="722.5">Vertebra</text>
<path class="thin" d="M564,736 Q564,740 568,740 H571 Q573,740 573,742.5 Q573,740 575,740 H578 Q582,740 582,736"/>
<path d="M561,738 L567,738 L564,734.5 z M579,738 L585,738 L582,734.5 z" fill="#000"/>
<text x="575" y="751.5" text-anchor="middle" style="font-size:11.5px">Sacral</text>
</g>
</svg>
